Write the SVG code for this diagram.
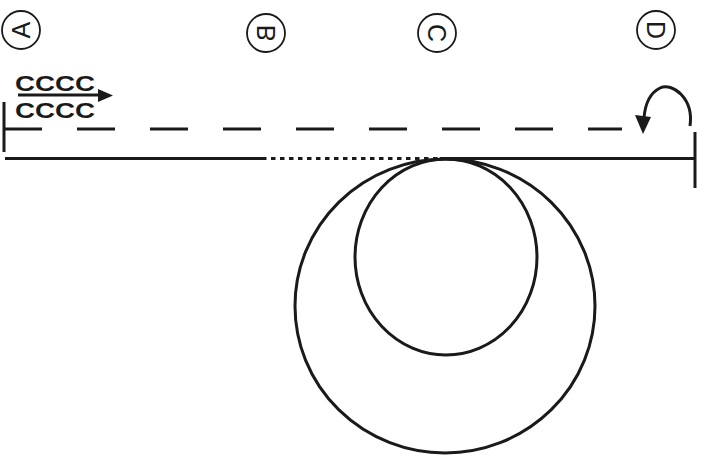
<svg xmlns="http://www.w3.org/2000/svg" width="708" height="459" viewBox="0 0 708 459">
<style>
.ln{stroke:#1a1a1a;fill:none;stroke-width:3}
.lab circle{fill:none;stroke:#1a1a1a;stroke-width:1.8}
.lab text{font-family:"Liberation Sans",Arial,sans-serif;font-size:25px;fill:#1a1a1a;text-anchor:middle;dominant-baseline:central}
.cc{font-family:"Liberation Sans",Arial,sans-serif;font-size:22px;font-weight:bold;fill:#1a1a1a}
</style>
<rect width="708" height="459" fill="#fff"/>
<g id="A" class="lab"><circle cx="21" cy="30" r="19"/><text transform="matrix(0,1,1,0,21,30)">A</text></g>
<g id="B" class="lab"><circle cx="266" cy="33" r="19"/><text transform="matrix(0,1,1,0,266,33)">B</text></g>
<g id="C" class="lab"><circle cx="437" cy="33" r="19"/><text transform="matrix(0,1,1,0,437,33)">C</text></g>
<g id="D" class="lab"><circle cx="656" cy="30" r="19"/><text transform="matrix(0,1,1,0,656,30)">D</text></g>
<g id="strand">
<text class="cc" x="15" y="91" textLength="80" lengthAdjust="spacingAndGlyphs">CCCC</text>
<text class="cc" x="15" y="118" textLength="80" lengthAdjust="spacingAndGlyphs">CCCC</text>
</g>
<g id="circles">
<ellipse class="ln" cx="445" cy="306" rx="150" ry="147"/>
<ellipse class="ln" cx="446" cy="257" rx="91" ry="98"/>
</g>
<g id="connectors">
<line class="ln" x1="18" y1="95" x2="100" y2="95"/>
<polygon points="98,89 113,95.5 98,102" fill="#1a1a1a"/>
<line class="ln" x1="4" y1="102" x2="4" y2="152"/>
<line class="ln" x1="4" y1="129" x2="622" y2="129" stroke-dasharray="38 35"/>
<line class="ln" x1="5" y1="158.5" x2="262" y2="158.5"/>
<line class="ln" x1="262" y1="158.5" x2="440" y2="158.5" stroke-dasharray="4.5 4.5"/>
<line class="ln" x1="440" y1="158.5" x2="695" y2="158.5"/>
<line class="ln" x1="695" y1="132" x2="695" y2="188"/>
<path class="ln" d="M690 126 C694 98 672 82 660 88 C650 93 645 105 644 118"/>
<polygon points="635,115 643,134 651,117" fill="#1a1a1a"/>
</g>
</svg>
